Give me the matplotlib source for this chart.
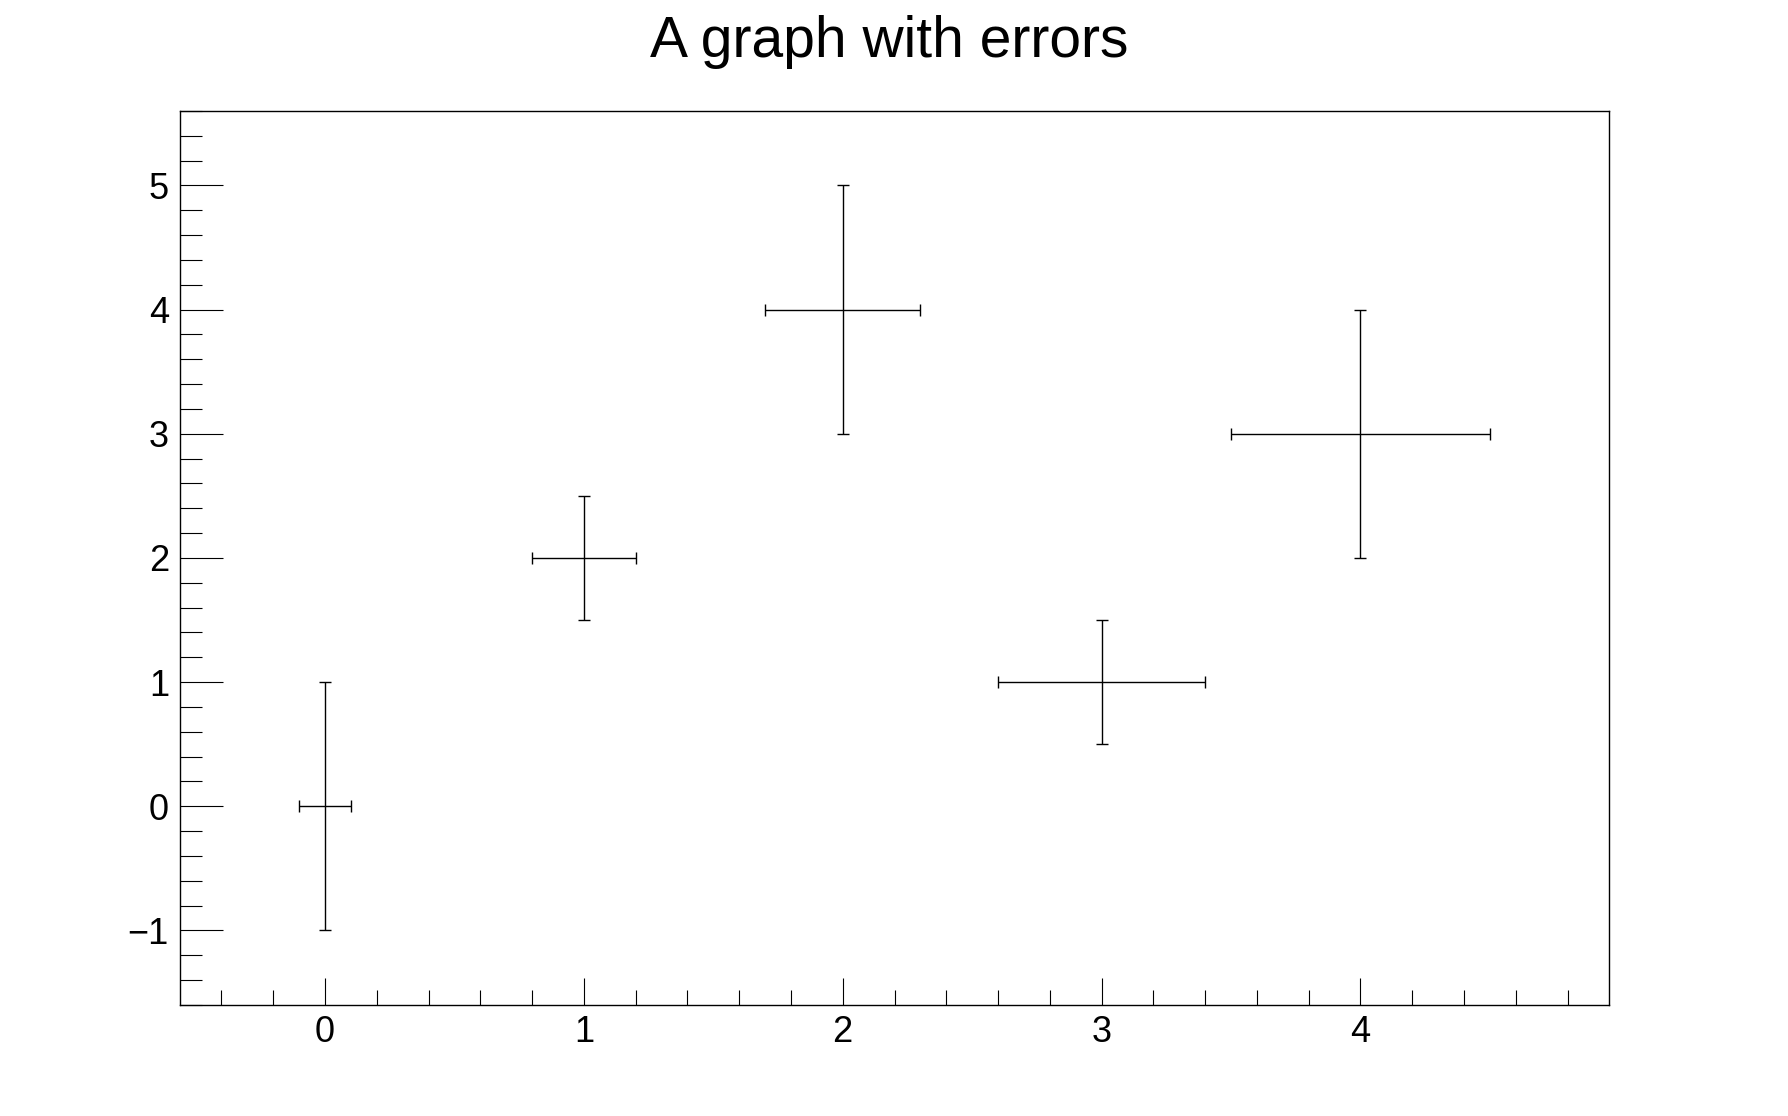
import numpy as np
import matplotlib.pyplot as plt
from matplotlib.ticker import MultipleLocator

plt.rcParams['font.family'] = ['Liberation Sans', 'DejaVu Sans']

# graph points and their errors
x = [0, 1, 2, 3, 4]
y = [0, 2, 4, 1, 3]
ex = [0.1, 0.2, 0.3, 0.4, 0.5]
ey = [1, 0.5, 1, 0.5, 1]

fig = plt.figure(figsize=(17.88, 11.16), dpi=100)
ax = fig.add_axes([180 / 1788, 1 - 1005 / 1116, 1429 / 1788, 894 / 1116])

ax.errorbar(x, y, xerr=ex, yerr=ey, fmt='none', ecolor='black',
            elinewidth=1.0, capsize=4.3, capthick=1.0)

ax.set_xlim(-0.56, 4.96)
ax.set_ylim(-1.6, 5.6)

ax.xaxis.set_major_locator(MultipleLocator(1))
ax.xaxis.set_minor_locator(MultipleLocator(0.2))
ax.yaxis.set_major_locator(MultipleLocator(1))
ax.yaxis.set_minor_locator(MultipleLocator(0.2))

ax.tick_params(axis='x', which='major', direction='in', length=19.5, width=0.8,
               labelsize=26, pad=7)
ax.tick_params(axis='x', which='minor', direction='in', length=11, width=0.8)
ax.tick_params(axis='y', which='major', direction='in', length=31, width=0.8,
               labelsize=26, pad=8)
ax.tick_params(axis='y', which='minor', direction='in', length=16, width=0.8)

for s in ax.spines.values():
    s.set_linewidth(1.0)

fig.text(889 / 1788, 1 - 57 / 1116, 'A graph with errors', ha='center',
         va='baseline', fontsize=41)

fig.savefig('out.png', dpi=100)
